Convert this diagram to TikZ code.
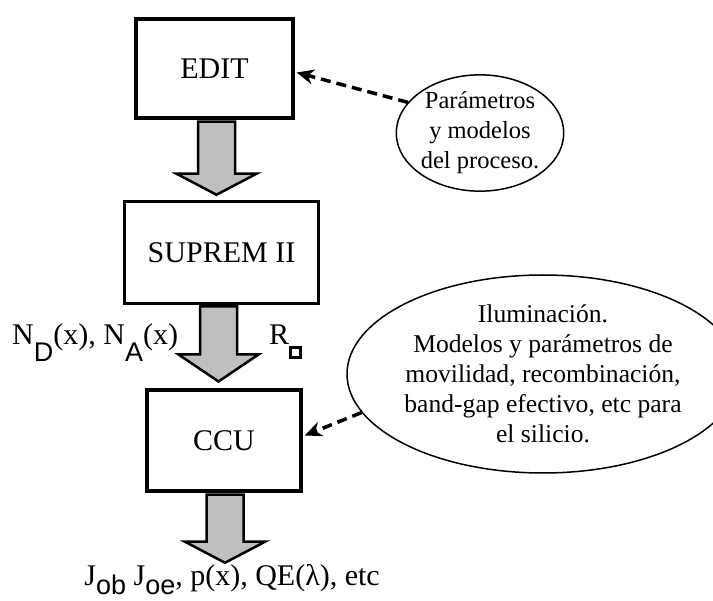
\documentclass[tikz,border=0pt]{standalone}
\usepackage{fontspec}
\setmainfont{Liberation Serif}
\newfontfamily\subsf{Liberation Sans}
\usetikzlibrary{shapes.geometric,arrows.meta,calc}
\newcommand{\lowsf}[3]{\raisebox{-#1pt}{\fontsize{#2}{#2}\subsf #3}}
\newcommand{\sqbox}{\raisebox{-11pt}{\setlength{\fboxsep}{0pt}\setlength{\fboxrule}{3pt}\fbox{\rule{0pt}{7pt}\hspace{7pt}}}}
\newcommand{\blockarrow}[3]{%
  \draw[blockarr] ($(#1)+(-18.5,0)$) -- ++(0,#2) -- ++(-21.5,0) -- ++(40,#3) -- ++(40,-#3) -- ++(-21.5,0) -- ++(0,-#2) -- cycle;}
\tikzset{
  box/.style={draw, line width=3.5pt, inner sep=0pt, font=\fontsize{30}{33}\selectfont},
  blockarr/.style={draw, line width=2.5pt, fill=gray!50, line join=miter},
  bubble/.style={draw, ellipse, line width=1.5pt, inner sep=0pt, align=center},
  dasharr/.style={line width=3.5pt, dash pattern=on 10pt off 6pt, -{Stealth[length=17pt,width=15pt]}},
  lab/.style={inner sep=0pt, font=\fontsize{30}{33}\selectfont}
}
\begin{document}
\begin{tikzpicture}[x=1pt,y=-1pt]
\useasboundingbox (0,0) rectangle (713,601);
% boxes
\node[box, minimum width=157pt, minimum height=99pt] (edit) at (214.5,68.5) {EDIT};
\node[box, line width=3pt, minimum width=194pt, minimum height=102pt] (suprem) at (221.5,252.5) {SUPREM II};
\node[box, minimum width=154pt, minimum height=101pt] (ccu) at (224,440.5) {CCU};
% block arrows
\coordinate (a1) at ($(edit.south)+(2,2)$);
\coordinate (a2) at ($(suprem.south)+(-3,1.5)$);
\coordinate (a3) at ($(ccu.south)+(1,2)$);
\blockarrow{a1}{52}{21}
\blockarrow{a2}{48}{27}
\blockarrow{a3}{47}{21}
% bubbles
\node[bubble, minimum width=160pt, minimum height=110pt, font=\fontsize{24.5}{30}\selectfont] (ell1) at (480,133) {Parámetros\\y modelos\\del proceso.};
\node[bubble, minimum width=331pt, minimum height=198pt, font=\fontsize{25.6}{30}\selectfont] (ell2) at (543,374) {Iluminación.\\Modelos y parámetros de\\movilidad, recombinación,\\band-gap efectivo, etc para\\el silicio.};
% dashed arrows
\draw[dasharr] (ell1.157) -- ($(edit.east)+(2,4)$);
\draw[dasharr] (ell2.192) -- ($(ccu.east)+(2,-5)$);
% labels
\node[lab, anchor=base west] (nd) at (12,345) {N\lowsf{17}{27}{D}(x), N\lowsf{17}{27}{A}(x)};
\node[lab, anchor=base west] (rs) at (269,345) {R\sqbox};
\node[lab, anchor=base east] (out) at (380,586) {J\lowsf{9}{27}{ob} J\lowsf{9}{27}{oe}, p(x), QE(λ), etc};
\end{tikzpicture}
\end{document}
